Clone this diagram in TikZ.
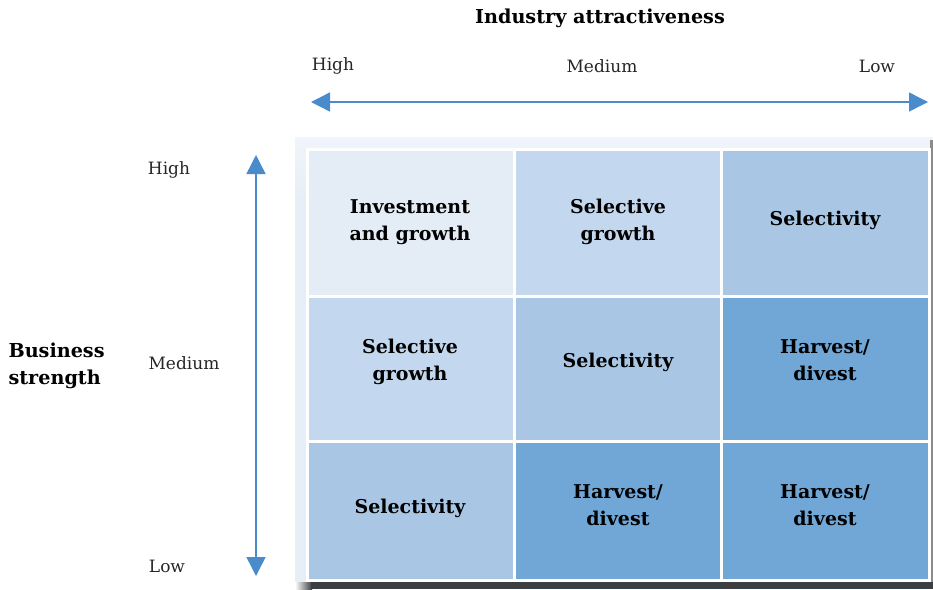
\documentclass[tikz,border=0pt]{standalone}
\usepackage{fontspec}
\setmainfont{DejaVu Serif}
\usetikzlibrary{arrows.meta}
\definecolor{cA}{HTML}{E4ECF6}
\definecolor{cB}{HTML}{C3D8EE}
\definecolor{cC}{HTML}{A9C7E5}
\definecolor{cD}{HTML}{71A7D7}
\definecolor{arr}{HTML}{4A8BCB}
\definecolor{panel}{HTML}{E6EEF7}
\definecolor{shadowc}{HTML}{3C3F42}
\tikzset{
  cell/.style={draw=white, line width=3pt},
  celltext/.style={font=\fontsize{19}{27}\selectfont\bfseries, align=center, text=black},
  lvl/.style={font=\fontsize{17}{20}\selectfont, text=black!85},
  axis/.style={draw=arr, line width=1.4pt, {Triangle[length=19pt,width=19pt]}-{Triangle[length=19pt,width=19pt]}},
  ttl/.style={font=\fontsize{19.2}{27}\selectfont\bfseries, align=left}
}
\begin{document}
\begin{tikzpicture}[x=1pt,y=-1pt]
\useasboundingbox (0,0) rectangle (933,589);
% panel
\shade[top color=panel!60!white, bottom color=panel] (295,137) rectangle (933,200);
\fill[panel] (295,199) rectangle (933,589);
\fill[black!45] (930,140) rectangle (933,589);
\shade[left color=white, right color=shadowc] (295,582) rectangle (312,589);
\fill[shadowc] (311,582) rectangle (933,589);
% cells
\path[cell,fill=cA] (307,149) rectangle (514,296);
\path[cell,fill=cB] (514,149) rectangle (721,296);
\path[cell,fill=cC] (721,149) rectangle (929,296);
\path[cell,fill=cB] (307,296) rectangle (514,441);
\path[cell,fill=cC] (514,296) rectangle (721,441);
\path[cell,fill=cD] (721,296) rectangle (929,441);
\path[cell,fill=cC] (307,441) rectangle (514,580);
\path[cell,fill=cD] (514,441) rectangle (721,580);
\path[cell,fill=cD] (721,441) rectangle (929,580);
% cell texts
\node[celltext] (t11) at (410,222) {Investment\\and growth};
\node[celltext] (t12) at (618,222) {Selective\\growth};
\node[celltext] (t13) at (825,220) {Selectivity};
\node[celltext] (t21) at (410,362) {Selective\\growth};
\node[celltext] (t22) at (618,362) {Selectivity};
\node[celltext] (t23) at (825,360) {Harvest/\\divest};
\node[celltext] (t31) at (410,508) {Selectivity};
\node[celltext] (t32) at (618,505) {Harvest/\\divest};
\node[celltext] (t33) at (825,505) {Harvest/\\divest};
% titles
\node[ttl] (ttop) at (600,18) {Industry attractiveness};
\node[ttl, anchor=west] (tleft) at (5,366) {Business\\strength};
% level labels
\node[lvl] (hh) at (333,66) {High};
\node[lvl] (hm) at (602,66) {Medium};
\node[lvl] (hl) at (877,66) {Low};
\node[lvl] (vh) at (169,170) {High};
\node[lvl] (vm) at (184,363) {Medium};
\node[lvl] (vl) at (167,566) {Low};
% axes
\coordinate (a1) at (311,102);
\coordinate (a2) at (928,102);
\coordinate (b1) at (256,155);
\coordinate (b2) at (256,576);
\draw[axis] (a1) -- (a2);
\draw[axis] (b1) -- (b2);
\end{tikzpicture}
\end{document}
